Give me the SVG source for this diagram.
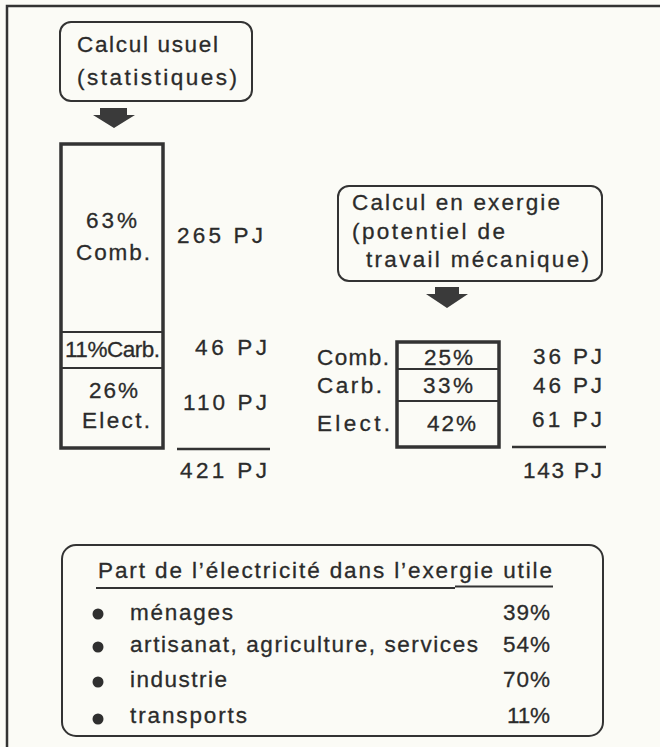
<svg xmlns="http://www.w3.org/2000/svg" width="660" height="747" viewBox="0 0 660 747">
<style>
text{font-family:"Liberation Sans","Arimo",Arial,sans-serif;font-size:22.5px;fill:#2b2b2b;stroke:#2b2b2b;stroke-width:0.3}
.box{fill:none;stroke:#333;stroke-width:2}
.bar{fill:none;stroke:#333;stroke-width:3.5}
.div{stroke:#333;stroke-width:2}
.rule{stroke:#333;stroke-width:2.5}
.arrow{fill:#3a3a3a}
.dot{fill:#2f2f2f}
</style>
<rect x="0" y="0" width="660" height="747" fill="#fbfbf6"/>
<g id="frame">
<path d="M7 747 V6 H660" fill="none" stroke="#333" stroke-width="2.5"/>
</g>
<g id="usual-title">
<rect class="box" x="60" y="22" width="192" height="79" rx="11"/>
<text x="77" y="52" textLength="141" lengthAdjust="spacing">Calcul usuel</text>
<text x="77" y="85" textLength="160" lengthAdjust="spacing">(statistiques)</text>
</g>
<g id="exergy-title">
<rect class="box" x="338" y="186" width="264" height="95" rx="11"/>
<text x="352" y="210" textLength="208" lengthAdjust="spacing">Calcul en exergie</text>
<text x="352" y="239" textLength="153" lengthAdjust="spacing">(potentiel de</text>
<text x="366" y="267" textLength="223" lengthAdjust="spacing">travail mécanique)</text>
</g>
<g id="connectors">
<path class="arrow" d="M100 108 H127 V115 H135 L114 128 L93 115 H100 Z"/>
<path class="arrow" d="M435 287 H459 V294 H468 L447 308 L426 294 H435 Z"/>
</g>
<g id="usual-bar">
<rect class="bar" x="61" y="144" width="102" height="304"/>
<line class="div" x1="61" y1="332" x2="163" y2="332"/>
<line class="div" x1="61" y1="368" x2="163" y2="368"/>
<text x="86" y="228" textLength="51" lengthAdjust="spacing">63%</text>
<text x="76" y="260" textLength="74" lengthAdjust="spacing">Comb.</text>
<text x="65" y="357" textLength="95" lengthAdjust="spacing">11%Carb.</text>
<text x="89" y="398" textLength="49" lengthAdjust="spacing">26%</text>
<text x="82" y="428" textLength="68" lengthAdjust="spacing">Elect.</text>
</g>
<g id="usual-values">
<text x="177" y="243" textLength="86" lengthAdjust="spacing">265 PJ</text>
<text x="195" y="355" textLength="72" lengthAdjust="spacing">46 PJ</text>
<text x="183" y="410" textLength="84" lengthAdjust="spacing">110 PJ</text>
<line class="rule" x1="177" y1="449" x2="270" y2="449"/>
<text x="180" y="478" textLength="87" lengthAdjust="spacing">421 PJ</text>
</g>
<g id="exergy-bar">
<rect class="bar" x="397" y="342" width="102" height="105"/>
<line class="div" x1="397" y1="369" x2="499" y2="369"/>
<line class="div" x1="397" y1="401" x2="499" y2="401"/>
<text x="317" y="365" textLength="72" lengthAdjust="spacing">Comb.</text>
<text x="424" y="365" textLength="49" lengthAdjust="spacing">25%</text>
<text x="317" y="393" textLength="65" lengthAdjust="spacing">Carb.</text>
<text x="423" y="393" textLength="50" lengthAdjust="spacing">33%</text>
<text x="317" y="431" textLength="73" lengthAdjust="spacing">Elect.</text>
<text x="427" y="431" textLength="49" lengthAdjust="spacing">42%</text>
</g>
<g id="exergy-values">
<text x="533" y="364" textLength="69" lengthAdjust="spacing">36 PJ</text>
<text x="533" y="393" textLength="69" lengthAdjust="spacing">46 PJ</text>
<text x="532" y="427" textLength="70" lengthAdjust="spacing">61 PJ</text>
<line class="rule" x1="512" y1="447" x2="606" y2="447"/>
<text x="523" y="478" textLength="79" lengthAdjust="spacing">143 PJ</text>
</g>
<g id="electricity-share">
<rect class="box" x="62" y="545" width="541" height="191" rx="14"/>
<text x="98" y="578" textLength="454" lengthAdjust="spacing">Part de l’électricité dans l’exergie utile</text>
<line x1="96" y1="588" x2="455" y2="588" stroke="#333" stroke-width="1.8"/>
<line x1="455" y1="586.5" x2="553" y2="586.5" stroke="#333" stroke-width="1.8"/>
<circle class="dot" cx="98" cy="614" r="5.5"/>
<circle class="dot" cx="98" cy="647" r="5.5"/>
<circle class="dot" cx="98" cy="682" r="5.5"/>
<circle class="dot" cx="98" cy="719" r="5.5"/>
<text x="130" y="620" textLength="103" lengthAdjust="spacing">ménages</text>
<text x="130" y="652" textLength="348" lengthAdjust="spacing">artisanat, agriculture, services</text>
<text x="130" y="687" textLength="97" lengthAdjust="spacing">industrie</text>
<text x="130" y="723" textLength="117" lengthAdjust="spacing">transports</text>
<text x="503" y="620" textLength="47" lengthAdjust="spacing">39%</text>
<text x="503" y="652" textLength="47" lengthAdjust="spacing">54%</text>
<text x="503" y="687" textLength="47" lengthAdjust="spacing">70%</text>
<text x="507" y="723" textLength="43" lengthAdjust="spacing">11%</text>
</g>
</svg>
